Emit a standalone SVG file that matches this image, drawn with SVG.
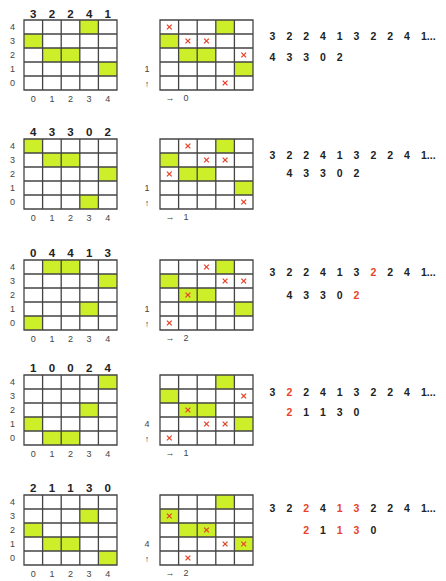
<svg xmlns="http://www.w3.org/2000/svg" xmlns:xlink="http://www.w3.org/1999/xlink" width="446" height="581" viewBox="0 0 446 581">
<style>
.hd{font-family:"Liberation Sans",Arial,sans-serif;font-size:11.5px;font-weight:bold;fill:#222;text-anchor:middle}
.lb{font-family:"Liberation Sans",Arial,sans-serif;font-size:9px;fill:#444;text-anchor:middle}
.sq{font-family:"Liberation Sans",Arial,sans-serif;font-size:10.5px;font-weight:bold;fill:#222;text-anchor:middle}
.red{fill:#e8432a}
.g{fill:#cdef2a}
.gl{fill:none;stroke:#444;stroke-width:1.3}
.xm{fill:none;stroke:#e8432a;stroke-width:1.3}
</style>
<defs>
<path id="grid" class="gl" d="M0 0H93V70H0Z M18.6 0V70 M37.2 0V70 M55.8 0V70 M74.4 0V70 M0 14H93 M0 28H93 M0 42H93 M0 56H93"/>
<path id="x" class="xm" d="M-2.4 -2.4L2.4 2.4M2.4 -2.4L-2.4 2.4"/>
<g id="refgreen" class="g">
<rect x="0" y="14" width="18.6" height="14"/><rect x="18.6" y="28" width="18.6" height="14"/><rect x="37.2" y="28" width="18.6" height="14"/><rect x="55.8" y="0" width="18.6" height="14"/><rect x="74.4" y="42" width="18.6" height="14"/>
</g>
<g id="rowlab" class="lb">
<text x="-11.5" y="10.2">4</text><text x="-11.5" y="24.2">3</text><text x="-11.5" y="38.2">2</text><text x="-11.5" y="52.2">1</text><text x="-11.5" y="66.2">0</text>
<text x="9.3" y="82">0</text><text x="27.9" y="82">1</text><text x="46.5" y="82">2</text><text x="65.1" y="82">3</text><text x="83.7" y="82">4</text>
</g>
</defs>
<rect width="446" height="581" fill="#fff"/>

<!-- Row 1 -->
<g id="left1" transform="translate(24,20)">
<rect width="93" height="70" fill="#fff"/>
<use xlink:href="#refgreen"/>
<use xlink:href="#grid"/>
<use xlink:href="#rowlab"/>
<g class="hd"><text x="9.3" y="-2.5">3</text><text x="27.9" y="-2.5">2</text><text x="46.5" y="-2.5">2</text><text x="65.1" y="-2.5">4</text><text x="83.7" y="-2.5">1</text></g>
</g>
<g id="mid1" transform="translate(160,20)">
<use xlink:href="#refgreen"/>
<use xlink:href="#grid"/>
<use xlink:href="#x" x="9.3" y="7"/><use xlink:href="#x" x="27.9" y="21"/><use xlink:href="#x" x="46.5" y="21"/><use xlink:href="#x" x="83.7" y="35"/><use xlink:href="#x" x="65.1" y="63"/>
<g class="lb"><text x="-13" y="52.2">1</text><text x="-13" y="66.5">↑</text><text x="10" y="81">→</text><text x="26" y="81">0</text></g>
</g>
<g id="seq1" class="sq">
<text x="272.5" y="39.5">3</text><text x="289.3" y="39.5">2</text><text x="306.1" y="39.5">2</text><text x="322.9" y="39.5">4</text><text x="339.7" y="39.5">1</text><text x="356.5" y="39.5">3</text><text x="373.3" y="39.5">2</text><text x="390.1" y="39.5">2</text><text x="406.9" y="39.5">4</text><text x="421" y="39.5" style="text-anchor:start">1...</text>
<text x="272.5" y="60.5">4</text><text x="289.3" y="60.5">3</text><text x="306.1" y="60.5">3</text><text x="322.9" y="60.5">0</text><text x="339.7" y="60.5">2</text>
</g>

<!-- Row 2 -->
<g id="left2" transform="translate(24,139)">
<g class="g"><rect x="0" y="0" width="18.6" height="14"/><rect x="18.6" y="14" width="18.6" height="14"/><rect x="37.2" y="14" width="18.6" height="14"/><rect x="55.8" y="56" width="18.6" height="14"/><rect x="74.4" y="28" width="18.6" height="14"/></g>
<use xlink:href="#grid"/>
<use xlink:href="#rowlab"/>
<g class="hd"><text x="9.3" y="-3">4</text><text x="27.9" y="-3">3</text><text x="46.5" y="-3">3</text><text x="65.1" y="-3">0</text><text x="83.7" y="-3">2</text></g>
</g>
<g id="mid2" transform="translate(160,139)">
<use xlink:href="#refgreen"/>
<use xlink:href="#grid"/>
<use xlink:href="#x" x="27.9" y="7"/><use xlink:href="#x" x="46.5" y="21"/><use xlink:href="#x" x="65.1" y="21"/><use xlink:href="#x" x="9.3" y="35"/><use xlink:href="#x" x="83.7" y="63"/>
<g class="lb"><text x="-13" y="52.2">1</text><text x="-13" y="66.5">↑</text><text x="10" y="81">→</text><text x="26" y="81">1</text></g>
</g>
<g id="seq2" class="sq">
<text x="272.5" y="158.5">3</text><text x="289.3" y="158.5">2</text><text x="306.1" y="158.5">2</text><text x="322.9" y="158.5">4</text><text x="339.7" y="158.5">1</text><text x="356.5" y="158.5">3</text><text x="373.3" y="158.5">2</text><text x="390.1" y="158.5">2</text><text x="406.9" y="158.5">4</text><text x="421" y="158.5" style="text-anchor:start">1...</text>
<text x="289.3" y="176.5">4</text><text x="306.1" y="176.5">3</text><text x="322.9" y="176.5">3</text><text x="339.7" y="176.5">0</text><text x="356.5" y="176.5">2</text>
</g>

<!-- Row 3 -->
<g id="left3" transform="translate(24,260)">
<g class="g"><rect x="0" y="56" width="18.6" height="14"/><rect x="18.6" y="0" width="18.6" height="14"/><rect x="37.2" y="0" width="18.6" height="14"/><rect x="55.8" y="42" width="18.6" height="14"/><rect x="74.4" y="14" width="18.6" height="14"/></g>
<use xlink:href="#grid"/>
<use xlink:href="#rowlab"/>
<g class="hd"><text x="9.3" y="-3">0</text><text x="27.9" y="-3">4</text><text x="46.5" y="-3">4</text><text x="65.1" y="-3">1</text><text x="83.7" y="-3">3</text></g>
</g>
<g id="mid3" transform="translate(160,260)">
<use xlink:href="#refgreen"/>
<use xlink:href="#grid"/>
<use xlink:href="#x" x="46.5" y="7"/><use xlink:href="#x" x="65.1" y="21"/><use xlink:href="#x" x="83.7" y="21"/><use xlink:href="#x" x="27.9" y="35"/><use xlink:href="#x" x="9.3" y="63"/>
<g class="lb"><text x="-13" y="52.2">1</text><text x="-13" y="66.5">↑</text><text x="10" y="81">→</text><text x="26" y="81">2</text></g>
</g>
<g id="seq3" class="sq">
<text x="272.5" y="275.5">3</text><text x="289.3" y="275.5">2</text><text x="306.1" y="275.5">2</text><text x="322.9" y="275.5">4</text><text x="339.7" y="275.5">1</text><text x="356.5" y="275.5">3</text><text class="red" x="373.3" y="275.5">2</text><text x="390.1" y="275.5">2</text><text x="406.9" y="275.5">4</text><text x="421" y="275.5" style="text-anchor:start">1...</text>
<text x="289.3" y="298.5">4</text><text x="306.1" y="298.5">3</text><text x="322.9" y="298.5">3</text><text x="339.7" y="298.5">0</text><text class="red" x="356.5" y="298.5">2</text>
</g>

<!-- Row 4 -->
<g id="left4" transform="translate(24,375)">
<g class="g"><rect x="0" y="42" width="18.6" height="14"/><rect x="18.6" y="56" width="18.6" height="14"/><rect x="37.2" y="56" width="18.6" height="14"/><rect x="55.8" y="28" width="18.6" height="14"/><rect x="74.4" y="0" width="18.6" height="14"/></g>
<use xlink:href="#grid"/>
<use xlink:href="#rowlab"/>
<g class="hd"><text x="9.3" y="-3">1</text><text x="27.9" y="-3">0</text><text x="46.5" y="-3">0</text><text x="65.1" y="-3">2</text><text x="83.7" y="-3">4</text></g>
</g>
<g id="mid4" transform="translate(160,375)">
<use xlink:href="#refgreen"/>
<use xlink:href="#grid"/>
<use xlink:href="#x" x="83.7" y="21"/><use xlink:href="#x" x="27.9" y="35"/><use xlink:href="#x" x="46.5" y="49"/><use xlink:href="#x" x="65.1" y="49"/><use xlink:href="#x" x="9.3" y="63"/>
<g class="lb"><text x="-13" y="52.2">4</text><text x="-13" y="66.5">↑</text><text x="10" y="81">→</text><text x="26" y="81">1</text></g>
</g>
<g id="seq4" class="sq">
<text x="272.5" y="396">3</text><text class="red" x="289.3" y="396">2</text><text x="306.1" y="396">2</text><text x="322.9" y="396">4</text><text x="339.7" y="396">1</text><text x="356.5" y="396">3</text><text x="373.3" y="396">2</text><text x="390.1" y="396">2</text><text x="406.9" y="396">4</text><text x="421" y="396" style="text-anchor:start">1...</text>
<text class="red" x="289.3" y="416">2</text><text x="306.1" y="416">1</text><text x="322.9" y="416">1</text><text x="339.7" y="416">3</text><text x="356.5" y="416">0</text>
</g>

<!-- Row 5 -->
<g id="left5" transform="translate(24,495)">
<g class="g"><rect x="0" y="28" width="18.6" height="14"/><rect x="18.6" y="42" width="18.6" height="14"/><rect x="37.2" y="42" width="18.6" height="14"/><rect x="55.8" y="14" width="18.6" height="14"/><rect x="74.4" y="56" width="18.6" height="14"/></g>
<use xlink:href="#grid"/>
<use xlink:href="#rowlab"/>
<g class="hd"><text x="9.3" y="-3">2</text><text x="27.9" y="-3">1</text><text x="46.5" y="-3">1</text><text x="65.1" y="-3">3</text><text x="83.7" y="-3">0</text></g>
</g>
<g id="mid5" transform="translate(160,495)">
<use xlink:href="#refgreen"/>
<use xlink:href="#grid"/>
<use xlink:href="#x" x="9.3" y="21"/><use xlink:href="#x" x="46.5" y="35"/><use xlink:href="#x" x="65.1" y="49"/><use xlink:href="#x" x="83.7" y="49"/><use xlink:href="#x" x="27.9" y="63"/>
<g class="lb"><text x="-13" y="52.2">4</text><text x="-13" y="66.5">↑</text><text x="10" y="81">→</text><text x="26" y="81">2</text></g>
</g>
<g id="seq5" class="sq">
<text x="272.5" y="511.5">3</text><text x="289.3" y="511.5">2</text><text class="red" x="306.1" y="511.5">2</text><text x="322.9" y="511.5">4</text><text class="red" x="339.7" y="511.5">1</text><text class="red" x="356.5" y="511.5">3</text><text x="373.3" y="511.5">2</text><text x="390.1" y="511.5">2</text><text x="406.9" y="511.5">4</text><text x="421" y="511.5" style="text-anchor:start">1...</text>
<text class="red" x="306.1" y="533.5">2</text><text x="322.9" y="533.5">1</text><text class="red" x="339.7" y="533.5">1</text><text class="red" x="356.5" y="533.5">3</text><text x="373.3" y="533.5">0</text>
</g>
</svg>
